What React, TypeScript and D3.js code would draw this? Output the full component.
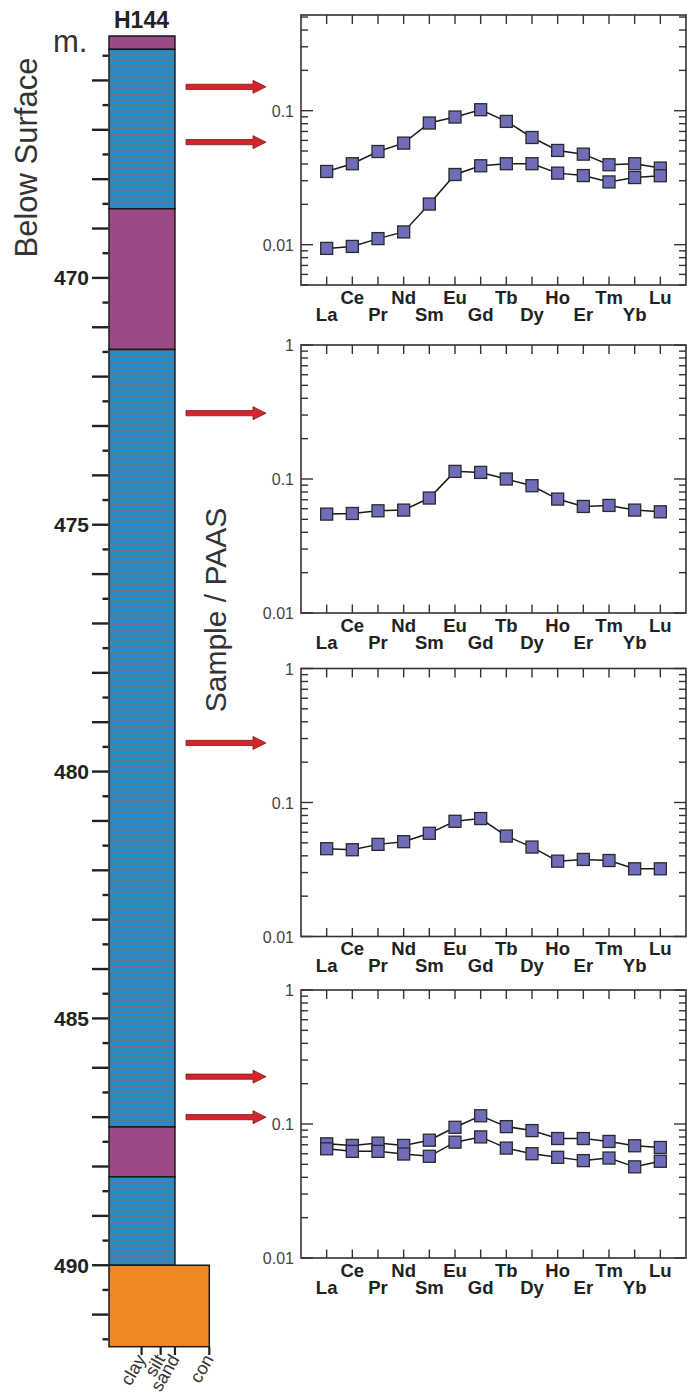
import { useEffect, useRef } from 'react'
import * as d3 from 'd3'

// REE normalised to PAAS
const elements = ['La', 'Ce', 'Pr', 'Nd', 'Sm', 'Eu', 'Gd', 'Tb', 'Dy', 'Ho', 'Er', 'Tm', 'Yb', 'Lu']
const sampleA1 = [0.0352, 0.0402, 0.0496, 0.0573, 0.0809, 0.0897, 0.1017, 0.0832, 0.0631, 0.0505, 0.0474, 0.0395, 0.0402, 0.0373]
const sampleA2 = [0.00938, 0.0097, 0.0111, 0.01245, 0.0201, 0.0334, 0.0388, 0.0402, 0.0402, 0.0342, 0.0328, 0.0294, 0.0317, 0.0327]
const sampleB = [0.0547, 0.0553, 0.0579, 0.0586, 0.0721, 0.114, 0.112, 0.1, 0.0891, 0.0708, 0.0624, 0.0635, 0.0586, 0.0569]
const sampleC = [0.0452, 0.0444, 0.0487, 0.051, 0.0589, 0.0724, 0.0759, 0.0562, 0.0465, 0.0365, 0.0376, 0.0369, 0.032, 0.032]
const sampleD1 = [0.0711, 0.0692, 0.072, 0.0692, 0.0757, 0.0945, 0.1152, 0.0956, 0.0893, 0.0779, 0.0779, 0.0741, 0.0688, 0.0668]
const sampleD2 = [0.0653, 0.0625, 0.0625, 0.0597, 0.0574, 0.0732, 0.0801, 0.0661, 0.06, 0.0564, 0.0533, 0.0557, 0.0479, 0.0527]

// well log H144
const depthRange = [465.1, 491.65]
const unitTops = [465.1, 465.37, 468.6, 471.45, 487.2, 488.21, 490]
const unitBases = [465.37, 468.6, 471.45, 487.2, 488.21, 490, 491.65]
const unitTypes = ['mud', 'silt', 'mud', 'silt', 'mud', 'silt', 'con']
const unitGrain = [2.63, 2.63, 2.63, 2.63, 2.63, 2.63, 4]
const grainNames = ['clay', 'silt', 'sand', 'con']
const grainValues = [1.3, 2.06, 2.63, 4]
const depthLabels = [470, 475, 480, 485, 490]
const sampleDepths = [466.13, 467.25, 472.74, 479.42, 486.18, 487.0]

const FONT = '"Liberation Sans", Arial, sans-serif'
const W = 687
const H = 1398

export default function App() {
  const svgRef = useRef<SVGSVGElement>(null)

  useEffect(() => {
    if (!svgRef.current) return
    const svg = d3.select(svgRef.current)
    svg.selectAll('*').remove()

    const defs = svg.append('defs')
    const pat = defs.append('pattern')
      .attr('id', 'siltHatch')
      .attr('patternUnits', 'userSpaceOnUse')
      .attr('width', 8).attr('height', 5.7)
    pat.append('rect').attr('width', 8).attr('height', 5.7).attr('fill', '#1a8fd2')
    pat.append('rect').attr('y', 2).attr('width', 8).attr('height', 2).attr('fill', '#687684')

    // ---- lithology column ----
    const yD = d3.scaleLinear().domain(depthRange).range([36, 1346.7])
    const xG = d3.scaleLinear().domain([0, 4]).range([109, 209.3])
    const fills: Record<string, string> = { mud: '#9d4887', silt: 'url(#siltHatch)', con: '#ef8824' }

    const col = svg.append('g')
    unitTops.forEach((top, i) => {
      col.append('rect')
        .attr('x', xG(0))
        .attr('y', yD(top))
        .attr('width', xG(unitGrain[i]) - xG(0))
        .attr('height', yD(unitBases[i]) - yD(top))
        .attr('fill', fills[unitTypes[i]])
        .attr('stroke', '#1a1a1a')
        .attr('stroke-width', 1.5)
    })

    // depth ticks
    const halfTicks = d3.range(Math.ceil(depthRange[0] * 2) / 2, depthRange[1], 0.5)
    col.selectAll('.dtick')
      .data(halfTicks)
      .enter().append('line')
      .attr('x1', d => (Number.isInteger(d) ? 92 : 102.5))
      .attr('x2', 108.5)
      .attr('y1', d => yD(d))
      .attr('y2', d => yD(d))
      .attr('stroke', '#222')
      .attr('stroke-width', 2.4)

    col.selectAll('.dlabel')
      .data(depthLabels)
      .enter().append('text')
      .attr('x', 89)
      .attr('y', d => yD(d) + 7.5)
      .attr('text-anchor', 'end')
      .attr('font-family', FONT)
      .attr('font-weight', 'bold')
      .attr('font-size', 21)
      .attr('fill', '#222')
      .text(d => d)

    // grain size ticks and labels
    grainNames.forEach((name, i) => {
      const gx = xG(grainValues[i])
      col.append('line')
        .attr('x1', gx).attr('x2', gx)
        .attr('y1', 1347).attr('y2', 1355)
        .attr('stroke', '#222').attr('stroke-width', 2.2)
      col.append('text')
        .attr('transform', `translate(${gx + 5},${1359}) rotate(-60)`)
        .attr('text-anchor', 'end')
        .attr('font-family', FONT)
        .attr('font-size', 18)
        .attr('fill', '#333')
        .text(name)
    })

    svg.append('text')
      .attr('x', 141.5).attr('y', 28)
      .attr('text-anchor', 'middle')
      .attr('font-family', FONT).attr('font-weight', 'bold').attr('font-size', 23)
      .attr('fill', '#222')
      .text('H144')

    svg.append('text')
      .attr('x', 53).attr('y', 51.5)
      .attr('font-family', FONT).attr('font-size', 31)
      .attr('fill', '#333')
      .text('m.')

    svg.append('text')
      .attr('transform', `translate(37,157.5) rotate(-90)`)
      .attr('text-anchor', 'middle')
      .attr('font-family', FONT).attr('font-size', 31)
      .attr('fill', '#333')
      .text('Below Surface')

    svg.append('text')
      .attr('transform', `translate(226,610) rotate(-90)`)
      .attr('text-anchor', 'middle')
      .attr('font-family', FONT).attr('font-size', 30)
      .attr('fill', '#333')
      .text('Sample / PAAS')

    // arrows
    const arrow = (y: number) => {
      const x0 = 186, xh = 253, x1 = 266, s = 2.6, h = 6.5
      return `M${x0},${y - s}L${xh},${y - s}L${xh},${y - h}L${x1},${y}L${xh},${y + h}L${xh},${y + s}L${x0},${y + s}Z`
    }
    svg.selectAll('.arrow')
      .data(sampleDepths)
      .enter().append('path')
      .attr('d', d => arrow(yD(d)))
      .attr('fill', '#d4262a')
      .attr('stroke', '#7e1b1b')
      .attr('stroke-width', 0.8)

    // ---- REE panels ----
    const x = d3.scalePoint<string>().domain(elements).range([301, 686]).padding(1)
    const panels = [
      { top: 15, bottom: 285, domain: [0.005, 0.518], series: [sampleA1, sampleA2] },
      { top: 345, bottom: 613, domain: [0.01, 1], series: [sampleB] },
      { top: 668.5, bottom: 936.5, domain: [0.01, 1], series: [sampleC] },
      { top: 990, bottom: 1258, domain: [0.01, 1], series: [sampleD1, sampleD2] },
    ]

    panels.forEach(p => {
      const y = d3.scaleLog().domain(p.domain).range([p.bottom, p.top])
      const g = svg.append('g')
      const left = 301, right = 686

      const ticks = y.ticks().filter(t => t >= p.domain[0] && t <= p.domain[1])
      ticks.forEach(t => {
        const major = Math.abs(Math.log10(t) - Math.round(Math.log10(t))) < 1e-9
        const len = major ? 12 : 7
        g.append('line').attr('x1', left).attr('x2', left + len)
          .attr('y1', y(t)).attr('y2', y(t))
          .attr('stroke', '#333').attr('stroke-width', 1.4)
        g.append('line').attr('x1', right - len).attr('x2', right)
          .attr('y1', y(t)).attr('y2', y(t))
          .attr('stroke', '#333').attr('stroke-width', 1.4)
        if (major) {
          g.append('text')
            .attr('x', 294).attr('y', y(t) + 6)
            .attr('text-anchor', 'end')
            .attr('font-family', FONT).attr('font-size', 16)
            .attr('fill', '#444')
            .text(d3.format('~g')(t))
        }
      })

      elements.forEach((el, i) => {
        const ex = x(el) as number
        g.append('line').attr('x1', ex).attr('x2', ex)
          .attr('y1', p.bottom).attr('y2', p.bottom - 8.5)
          .attr('stroke', '#333').attr('stroke-width', 1.4)
        g.append('line').attr('x1', ex).attr('x2', ex)
          .attr('y1', p.top).attr('y2', p.top + 9)
          .attr('stroke', '#333').attr('stroke-width', 1.4)
        g.append('text')
          .attr('x', ex).attr('y', p.bottom + (i % 2 === 1 ? 18.5 : 35.5))
          .attr('text-anchor', 'middle')
          .attr('font-family', FONT).attr('font-weight', 'bold').attr('font-size', 18.5)
          .attr('fill', '#222')
          .text(el)
      })

      g.append('rect')
        .attr('x', left).attr('y', p.top)
        .attr('width', right - left).attr('height', p.bottom - p.top)
        .attr('fill', 'none').attr('stroke', '#333').attr('stroke-width', 1.6)

      const line = d3.line<number>()
        .x((_, i) => x(elements[i]) as number)
        .y(d => y(d))

      p.series.forEach(s => {
        g.append('path')
          .attr('d', line(s))
          .attr('fill', 'none')
          .attr('stroke', '#1a1a1a')
          .attr('stroke-width', 1.5)
      })
      p.series.forEach(s => {
        g.selectAll(null)
          .data(s)
          .enter().append('rect')
          .attr('x', (_, i) => (x(elements[i]) as number) - 6)
          .attr('y', d => y(d) - 6)
          .attr('width', 12).attr('height', 12)
          .attr('fill', '#6f6db9')
          .attr('stroke', '#2a2a2a')
          .attr('stroke-width', 1.3)
      })
    })
  }, [])

  return (
    <svg
      ref={svgRef}
      width={W}
      height={H}
      style={{ position: 'absolute', left: 0, top: 0, background: '#fff', display: 'block' }}
    />
  )
}
